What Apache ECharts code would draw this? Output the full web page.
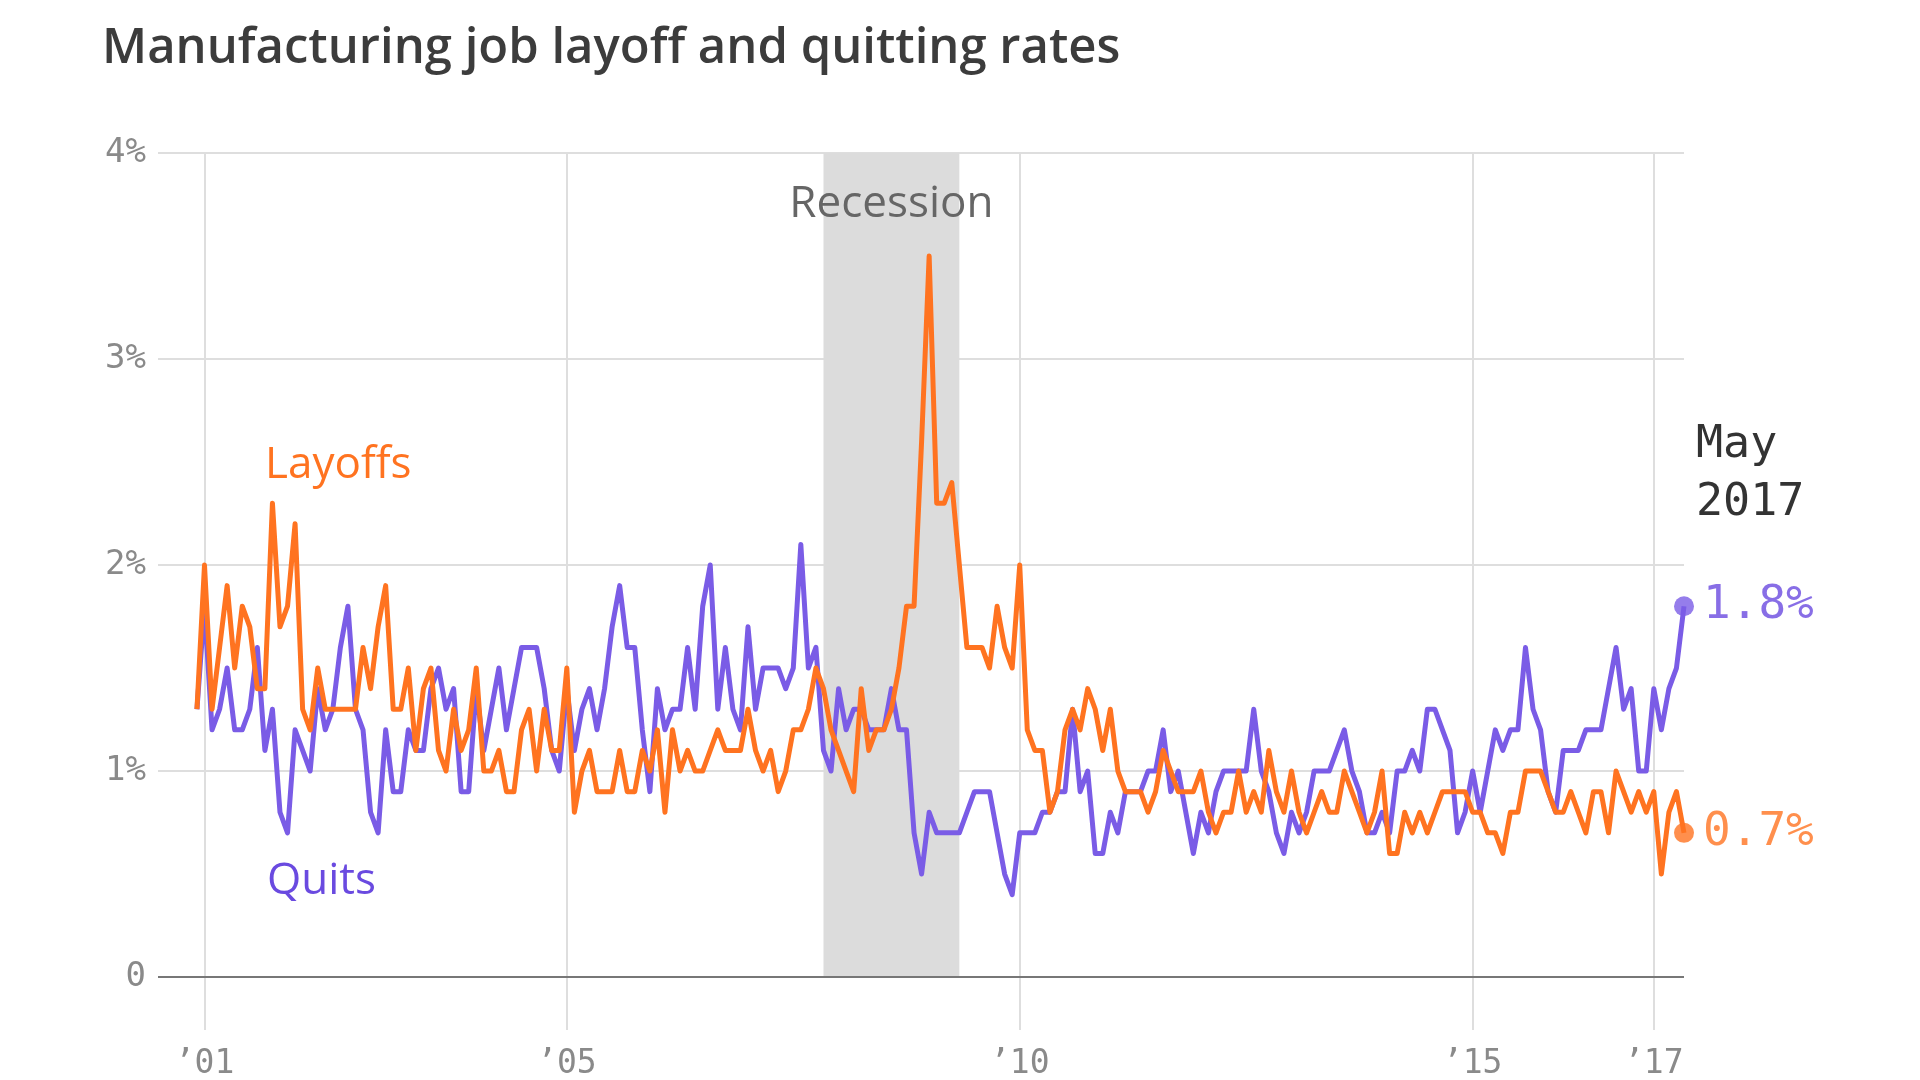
<!DOCTYPE html>
<html>
<head>
<meta charset="utf-8">
<script src="https://cdn.jsdelivr.net/npm/echarts@6/dist/echarts.min.js"></script>
<style>
  html, body { margin: 0; padding: 0; background: #ffffff; }
  #chart { width: 1920px; height: 1080px; }
</style>
</head>
<body>
<div id="chart"></div>
<script>
// ---- data (monthly, Dec 2000 .. May 2017) ----
const START_YEAR = 2000;
const START_MONTH = 12; // December 2000

const layoffs = [
  1.3,
  2.0,1.3,1.6,1.9,1.5,1.8,1.7,1.4,1.4,2.3,1.7,1.8,
  2.2,1.3,1.2,1.5,1.3,1.3,1.3,1.3,1.3,1.6,1.4,1.7,
  1.9,1.3,1.3,1.5,1.1,1.4,1.5,1.1,1.0,1.3,1.1,1.2,
  1.5,1.0,1.0,1.1,0.9,0.9,1.2,1.3,1.0,1.3,1.1,1.1,
  1.5,0.8,1.0,1.1,0.9,0.9,0.9,1.1,0.9,0.9,1.1,1.0,
  1.2,0.8,1.2,1.0,1.1,1.0,1.0,1.1,1.2,1.1,1.1,1.1,
  1.3,1.1,1.0,1.1,0.9,1.0,1.2,1.2,1.3,1.5,1.4,1.2,
  1.1,1.0,0.9,1.4,1.1,1.2,1.2,1.3,1.5,1.8,1.8,2.6,
  3.5,2.3,2.3,2.4,2.0,1.6,1.6,1.6,1.5,1.8,1.6,1.5,
  2.0,1.2,1.1,1.1,0.8,0.9,1.2,1.3,1.2,1.4,1.3,1.1,
  1.3,1.0,0.9,0.9,0.9,0.8,0.9,1.1,1.0,0.9,0.9,0.9,
  1.0,0.8,0.7,0.8,0.8,1.0,0.8,0.9,0.8,1.1,0.9,0.8,
  1.0,0.8,0.7,0.8,0.9,0.8,0.8,1.0,0.9,0.8,0.7,0.8,
  1.0,0.6,0.6,0.8,0.7,0.8,0.7,0.8,0.9,0.9,0.9,0.9,
  0.8,0.8,0.7,0.7,0.6,0.8,0.8,1.0,1.0,1.0,0.9,0.8,
  0.8,0.9,0.8,0.7,0.9,0.9,0.7,1.0,0.9,0.8,0.9,0.8,
  0.9,0.5,0.8,0.9,0.7
];

const quits = [
  1.3,
  1.8,1.2,1.3,1.5,1.2,1.2,1.3,1.6,1.1,1.3,0.8,0.7,
  1.2,1.1,1.0,1.4,1.2,1.3,1.6,1.8,1.3,1.2,0.8,0.7,
  1.2,0.9,0.9,1.2,1.1,1.1,1.4,1.5,1.3,1.4,0.9,0.9,
  1.4,1.1,1.3,1.5,1.2,1.4,1.6,1.6,1.6,1.4,1.1,1.0,
  1.4,1.1,1.3,1.4,1.2,1.4,1.7,1.9,1.6,1.6,1.2,0.9,
  1.4,1.2,1.3,1.3,1.6,1.3,1.8,2.0,1.3,1.6,1.3,1.2,
  1.7,1.3,1.5,1.5,1.5,1.4,1.5,2.1,1.5,1.6,1.1,1.0,
  1.4,1.2,1.3,1.3,1.2,1.2,1.2,1.4,1.2,1.2,0.7,0.5,
  0.8,0.7,0.7,0.7,0.7,0.8,0.9,0.9,0.9,0.7,0.5,0.4,
  0.7,0.7,0.7,0.8,0.8,0.9,0.9,1.3,0.9,1.0,0.6,0.6,
  0.8,0.7,0.9,0.9,0.9,1.0,1.0,1.2,0.9,1.0,0.8,0.6,
  0.8,0.7,0.9,1.0,1.0,1.0,1.0,1.3,1.0,0.9,0.7,0.6,
  0.8,0.7,0.8,1.0,1.0,1.0,1.1,1.2,1.0,0.9,0.7,0.7,
  0.8,0.7,1.0,1.0,1.1,1.0,1.3,1.3,1.2,1.1,0.7,0.8,
  1.0,0.8,1.0,1.2,1.1,1.2,1.2,1.6,1.3,1.2,0.9,0.8,
  1.1,1.1,1.1,1.2,1.2,1.2,1.4,1.6,1.3,1.4,1.0,1.0,
  1.4,1.2,1.4,1.5,1.8
];

const xTickYears = [2001, 2005, 2010, 2015, 2017];
const yTickValues = [0, 1, 2, 3, 4];
const recessionStart = [2007, 11]; // year, month
const recessionEnd = [2009, 5];
const endDateLabel = 'May\n2017';

// ---- helpers ----
const ORANGE = '#ff7320';
const PURPLE = '#7a5ce6';
const PURPLE_TEXT = '#6a4ae0';
const MONO = '"DejaVu Sans Mono", monospace';
const SANS = '"Open Sans", sans-serif';

function monthIndexToYear(i) { return START_YEAR + (START_MONTH - 1 + i) / 12; }
function ymToYear(ym) { return ym[0] + (ym[1] - 1) / 12; }

const layoffData = layoffs.map((v, i) => [monthIndexToYear(i), v]);
const quitData = quits.map((v, i) => [monthIndexToYear(i), v]);
const lastIdx = layoffs.length - 1;
const xMax = monthIndexToYear(lastIdx);
const xMin = monthIndexToYear(0) - 0.43;

const chart = echarts.init(document.getElementById('chart'));
chart.setOption({
  animation: false,
  backgroundColor: '#ffffff',
  title: {
    text: 'Manufacturing job layoff and quitting rates',
    left: 102,
    top: 25,
    padding: 0,
    textStyle: { fontFamily: SANS, fontWeight: 600, fontSize: 49, lineHeight: 49, color: '#3c3c3c' }
  },
  grid: { left: 158, right: 236, top: 153, bottom: 50, containLabel: false, outerBoundsMode: 'none' },
  xAxis: {
    type: 'value',
    min: xMin,
    max: xMax,
    axisLine: { show: false, onZero: false },
    axisTick: { show: false, customValues: xTickYears },
    axisLabel: {
      customValues: xTickYears,
      formatter: v => '\u2019' + String(Math.round(v)).slice(2),
      margin: 18,
      fontFamily: MONO, fontSize: 33, color: '#8a8a8a'
    },
    splitLine: { show: true, lineStyle: { color: '#dedede', width: 2 } }
  },
  yAxis: {
    type: 'value',
    min: -0.257,
    max: 4,
    axisLine: { show: false },
    axisTick: { show: false, customValues: yTickValues },
    axisLabel: {
      customValues: yTickValues,
      formatter: v => (v === 0 ? '0' : v + '%'),
      margin: 12,
      padding: [5, 0, 0, 0],
      fontFamily: MONO, fontSize: 34, color: '#8a8a8a'
    },
    splitLine: { show: true, lineStyle: { color: '#dedede', width: 2 } }
  },
  graphic: [
    { type: 'text', x: 265, y: 465, z: 10,
      style: { text: 'Layoffs', font: '44px ' + SANS, fill: ORANGE, align: 'left', verticalAlign: 'middle' } },
    { type: 'text', x: 267, y: 881, z: 10,
      style: { text: 'Quits', font: '44px ' + SANS, fill: PURPLE_TEXT, align: 'left', verticalAlign: 'middle' } },
    { type: 'text', x: 1696, y: 474, z: 10,
      style: { text: endDateLabel, font: '45px ' + MONO, lineHeight: 58, fill: '#333333', align: 'left', verticalAlign: 'middle' } }
  ],
  series: [
    {
      name: 'Recession',
      type: 'line',
      data: [],
      z: 1,
      silent: true,
      markArea: {
        silent: true,
        itemStyle: { color: '#dcdcdc' },
        label: {
          show: true, position: 'insideTop', distance: 29,
          fontFamily: SANS, fontSize: 44, lineHeight: 44, color: '#666666'
        },
        data: [[
          { name: 'Recession', xAxis: ymToYear(recessionStart), yAxis: 0 },
          { xAxis: ymToYear(recessionEnd), yAxis: 4 }
        ]]
      },
      markLine: {
        silent: true,
        symbol: 'none',
        label: { show: false },
        lineStyle: { color: '#777777', width: 2, type: 'solid' },
        data: [{ yAxis: 0 }]
      }
    },
    {
      name: 'Quits', type: 'line', data: quitData, z: 3,
      symbol: 'none', lineStyle: { color: PURPLE, width: 5, join: 'round' }, itemStyle: { color: PURPLE }
    },
    {
      name: 'Layoffs', type: 'line', data: layoffData, z: 4,
      symbol: 'none', lineStyle: { color: ORANGE, width: 5, join: 'round' }, itemStyle: { color: ORANGE }
    },
    {
      name: 'QuitsEnd', type: 'scatter', z: 5, symbolSize: 20,
      data: [quitData[lastIdx]],
      itemStyle: { color: PURPLE },
      label: { show: true, position: 'right', distance: 9, formatter: p => p.value[1].toFixed(1) + '%',
        fontFamily: MONO, fontSize: 46, color: PURPLE_TEXT }
    },
    {
      name: 'LayoffsEnd', type: 'scatter', z: 5, symbolSize: 20,
      data: [layoffData[lastIdx]],
      itemStyle: { color: ORANGE },
      label: { show: true, position: 'right', distance: 9, formatter: p => p.value[1].toFixed(1) + '%',
        fontFamily: MONO, fontSize: 46, color: ORANGE }
    }
  ]
});
</script>
</body>
</html>
